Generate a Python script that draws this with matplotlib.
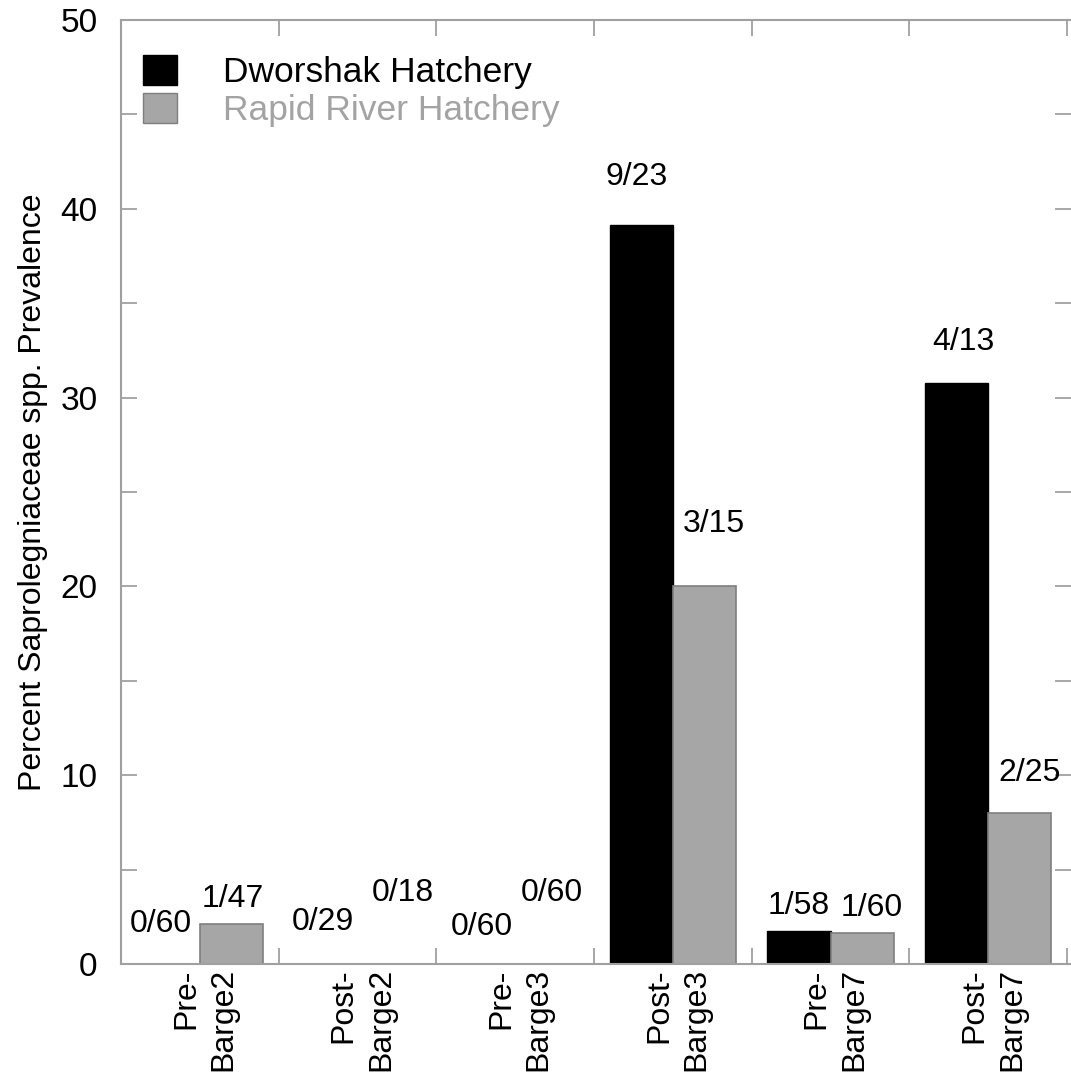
import numpy as np
import matplotlib
matplotlib.use('Agg')
import matplotlib.pyplot as plt
import matplotlib.transforms as mtransforms
from matplotlib.patches import Patch
from matplotlib.ticker import MultipleLocator, FixedLocator

plt.rcParams['font.family'] = ['Liberation Sans', 'DejaVu Sans']

groups = ['Pre-\nBarge2', 'Post-\nBarge2', 'Pre-\nBarge3',
          'Post-\nBarge3', 'Pre-\nBarge7', 'Post-\nBarge7']
dworshak_pos = [0, 0, 0, 9, 1, 4]
dworshak_n = [60, 29, 60, 23, 58, 13]
rapid_pos = [1, 0, 0, 3, 1, 2]
rapid_n = [47, 18, 60, 15, 60, 25]

# where the count labels sit (x shift from bar centre, y in percent)
dw_lab_dx = [-0.05, -0.02, -0.01, -0.03, 0.0, 0.045]
dw_lab_y = [2.1, 2.2, 1.96, 41.7, 3.07, 32.97]
rr_lab_dx = [0.01, 0.09, 0.03, 0.06, 0.06, 0.06]
rr_lab_y = [3.44, 3.76, 3.76, 23.3, 2.97, 10.1]

dw_pct = 100 * np.array(dworshak_pos) / np.array(dworshak_n)
rr_pct = 100 * np.array(rapid_pos) / np.array(rapid_n)

FS_LAB = 23
FS_TICK = 24
FS_LEG = 25.5
GRAY = '#a6a6a6'
AXC = '#a0a0a0'
w = 0.4
x = np.arange(len(groups))

fig = plt.figure(figsize=(10.71, 10.79), dpi=100)
ax = fig.add_axes([121 / 1071, 1 - 964 / 1079, 1 - 121 / 1071, (964 - 20) / 1079])

ax.bar(x - w / 2, dw_pct, w, color='black', edgecolor='black', linewidth=1)
ax.bar(x + w / 2, rr_pct, w, color=GRAY, edgecolor='#7f7f7f', linewidth=1.2)

for i in range(len(groups)):
    ax.text(x[i] - w / 2 + dw_lab_dx[i], dw_lab_y[i],
            f'{dworshak_pos[i]}/{dworshak_n[i]}', ha='center', va='center', fontsize=FS_LAB)
    ax.text(x[i] + w / 2 + rr_lab_dx[i], rr_lab_y[i],
            f'{rapid_pos[i]}/{rapid_n[i]}', ha='center', va='center', fontsize=FS_LAB)

ax.set_xlim(-0.5, 5.525)
ax.set_ylim(0, 50)

for s in ['left', 'bottom', 'top']:
    ax.spines[s].set_color(AXC)
    ax.spines[s].set_linewidth(1.5)
ax.spines['right'].set_visible(False)

ax.yaxis.set_major_locator(MultipleLocator(10))
ax.yaxis.set_minor_locator(MultipleLocator(5))
ax.tick_params(axis='y', which='both', direction='in', length=11.5, width=1.3,
               color=AXC, left=True, right=True, labelsize=FS_TICK, pad=17)

ax.xaxis.set_major_locator(FixedLocator(x))
ax.xaxis.set_minor_locator(FixedLocator(np.arange(-0.5, 6, 1)))
ax.set_xticklabels(groups, rotation=90, fontsize=23, va='top', ha='center',
                   multialignment='right', linespacing=1.32)
ax.tick_params(axis='x', which='major', length=0, pad=3)
ax.tick_params(axis='x', which='minor', direction='in', length=11.5, width=1.3,
               color=AXC, top=True, bottom=True)
# nudge the rotated group labels a little to the right
shift = mtransforms.ScaledTranslation(5 / 100, 0, fig.dpi_scale_trans)
for lab in ax.get_xticklabels():
    lab.set_transform(lab.get_transform() + shift)

ax.set_ylabel('Percent Saprolegniaceae spp. Prevalence', fontsize=FS_LAB)
ax.yaxis.set_label_coords(-0.077, 0.5)

handles = [Patch(facecolor='black', edgecolor='black'),
           Patch(facecolor=GRAY, edgecolor='#7f7f7f')]
ax.legend(handles, ['Dworshak Hatchery', 'Rapid River Hatchery'],
          loc='upper left', bbox_to_anchor=(0.023, 0.963), frameon=False,
          fontsize=FS_LEG, handlelength=0.96, handleheight=0.95, handletextpad=1.3,
          labelspacing=0.1, borderpad=0, borderaxespad=0,
          labelcolor=['black', '#a3a3a3'])

fig.savefig('out.png', dpi=100)
